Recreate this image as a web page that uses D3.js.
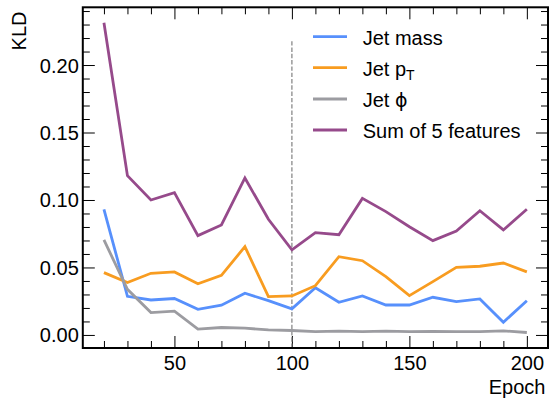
<!DOCTYPE html>
<html>
<head>
<meta charset="utf-8">
<script src="https://cdn.jsdelivr.net/npm/d3@7"></script>
<style>
  html, body { margin: 0; padding: 0; background: #fff; }
  svg { display: block; font-family: "Liberation Sans", Arial, Helvetica, sans-serif; }
</style>
</head>
<body>
<svg id="chart" width="549" height="399"></svg>
<script>
// Training epochs at which the KL divergence was evaluated
const epochs = [20, 30, 40, 50, 60, 70, 80, 90, 100, 110, 120, 130, 140, 150, 160, 170, 180, 190, 200];

// KLD per feature
const jetMass = [0.0931, 0.0286, 0.0259, 0.0270, 0.0190, 0.0220, 0.0309, 0.0254, 0.0193, 0.0350, 0.0242, 0.0289, 0.0222, 0.0222, 0.0279, 0.0247, 0.0267, 0.0094, 0.0254];
const jetPt   = [0.0462, 0.0388, 0.0457, 0.0467, 0.0379, 0.0442, 0.0654, 0.0284, 0.0289, 0.0365, 0.0580, 0.0550, 0.0432, 0.0291, 0.0395, 0.0501, 0.0509, 0.0533, 0.0467];
const jetPhi  = [0.0704, 0.0338, 0.0166, 0.0176, 0.0043, 0.0055, 0.0050, 0.0037, 0.0033, 0.0025, 0.0028, 0.0025, 0.0028, 0.0024, 0.0027, 0.0025, 0.0024, 0.0030, 0.0018];
const sumOf5  = [0.2313, 0.1180, 0.1000, 0.1054, 0.0736, 0.0815, 0.1163, 0.0857, 0.0630, 0.0758, 0.0743, 0.1012, 0.0914, 0.0802, 0.0699, 0.0770, 0.0920, 0.0778, 0.0931];

const seriesNames  = ["Jet mass", "Jet pT", "Jet phi", "Sum of 5 features"];
const seriesColors = ["#5790fc", "#f89c20", "#9c9ca1", "#964a8b"];
const seriesValues = [jetMass, jetPt, jetPhi, sumOf5];

const yMajorTicks = [0.00, 0.05, 0.10, 0.15, 0.20];
const xMajorTicks = [50, 100, 150, 200];
const markerEpoch = 100;

const svg = d3.select("#chart");
const box = { left: 82.8, right: 548, top: 7.3, bottom: 348 };

// 5% padding around the data range on both axes
function padded(lo, hi) {
  const r = hi - lo;
  return [lo - 0.05 * r, hi + 0.05 * r];
}
const allY = seriesValues.flat();
const x = d3.scaleLinear().domain(padded(d3.min(epochs), d3.max(epochs))).range([box.left, box.right]);
const y = d3.scaleLinear().domain(padded(d3.min(allY), d3.max(allY))).range([box.bottom, box.top]);

const xMinor = d3.range(10, 211, 10).filter(v => v >= x.domain()[0] && v <= x.domain()[1] && !xMajorTicks.includes(v));
const yMinor = d3.range(0, 25).map(i => i / 100).filter(v => v >= y.domain()[0] && v <= y.domain()[1] && yMajorTicks.every(t => Math.abs(t - v) > 1e-9));

const plotH = box.bottom - box.top;
const plotW = box.right - box.left;
const MAJ = 12, MIN = 7;
const fontSize = 20;

// Inward ticks on all four sides
function addAxis(axisGen, transform, ticks, len, labels) {
  const g = svg.append("g").attr("transform", transform)
    .call(axisGen.tickValues(ticks).tickSizeInner(len).tickSizeOuter(0).tickPadding(labels ? 4 : 0)
      .tickFormat(labels ? labels : () => ""));
  g.select(".domain").remove();
  g.selectAll(".tick line").attr("stroke", "#000").attr("stroke-width", 1);
  g.selectAll(".tick text").attr("font-size", fontSize).attr("fill", "#000")
    .attr("font-family", "Liberation Sans, Arial, sans-serif");
  return g;
}

// bottom
const gb = addAxis(d3.axisBottom(x), `translate(0,${box.bottom})`, xMajorTicks, -MAJ, d3.format("d"));
gb.selectAll(".tick text").attr("y", 8).attr("dy", "0.71em");
addAxis(d3.axisBottom(x), `translate(0,${box.bottom})`, xMinor, -MIN, null);
// top
addAxis(d3.axisTop(x), `translate(0,${box.top})`, xMajorTicks, -MAJ, null);
addAxis(d3.axisTop(x), `translate(0,${box.top})`, xMinor, -MIN, null);
// left
const gl = addAxis(d3.axisLeft(y), `translate(${box.left},0)`, yMajorTicks, -MAJ, d3.format(".2f"));
gl.selectAll(".tick text").attr("x", -4).attr("dy", "0.35em");
addAxis(d3.axisLeft(y), `translate(${box.left},0)`, yMinor, -MIN, null);
// right
addAxis(d3.axisRight(y), `translate(${box.right},0)`, yMajorTicks, -MAJ, null);
addAxis(d3.axisRight(y), `translate(${box.right},0)`, yMinor, -MIN, null);

// Vertical reference line at the chosen epoch (spans 90% of the axis height)
svg.append("line")
  .attr("x1", x(markerEpoch)).attr("x2", x(markerEpoch))
  .attr("y1", box.bottom).attr("y2", box.bottom - 0.9 * plotH)
  .attr("stroke", "#808080").attr("stroke-width", 1.2)
  .attr("stroke-dasharray", "4.4,1.9");

// Series lines
const line = d3.line().x((d, i) => x(epochs[i])).y(d => y(d));
seriesValues.forEach((vals, k) => {
  svg.append("path")
    .datum(vals)
    .attr("d", line)
    .attr("fill", "none")
    .attr("stroke", seriesColors[k])
    .attr("stroke-width", 2.8)
    .attr("stroke-linejoin", "miter")
    .attr("stroke-linecap", "butt");
});

// Frame
svg.append("rect")
  .attr("x", box.left).attr("y", box.top)
  .attr("width", plotW).attr("height", plotH)
  .attr("fill", "none").attr("stroke", "#000").attr("stroke-width", 2);

// Axis titles
svg.append("text")
  .attr("transform", `translate(26,11.5) rotate(-90)`)
  .attr("text-anchor", "end")
  .attr("font-size", fontSize)
  .text("KLD");
svg.append("text")
  .attr("x", 545.5).attr("y", 394)
  .attr("text-anchor", "end")
  .attr("font-size", fontSize)
  .text("Epoch");

// Legend
const legend = svg.append("g");
const rowY = [36.7, 67.6, 99, 130];
seriesNames.forEach((name, k) => {
  const yy = rowY[k];
  legend.append("line")
    .attr("x1", 313).attr("x2", 347).attr("y1", yy).attr("y2", yy)
    .attr("stroke", seriesColors[k]).attr("stroke-width", 2.8);
  const t = legend.append("text")
    .attr("x", 362.7).attr("y", yy + 8)
    .attr("font-size", fontSize);
  if (name === "Jet pT") {
    t.append("tspan").text("Jet p");
    t.append("tspan").attr("font-size", 14).attr("dy", 4).text("T");
  } else if (name === "Jet phi") {
    t.append("tspan").text("Jet ");
    t.append("tspan").attr("font-family", "DejaVu Sans, sans-serif").attr("font-size", 19).text("\u03D5");
  } else {
    t.text(name);
  }
});
</script>
</body>
</html>
